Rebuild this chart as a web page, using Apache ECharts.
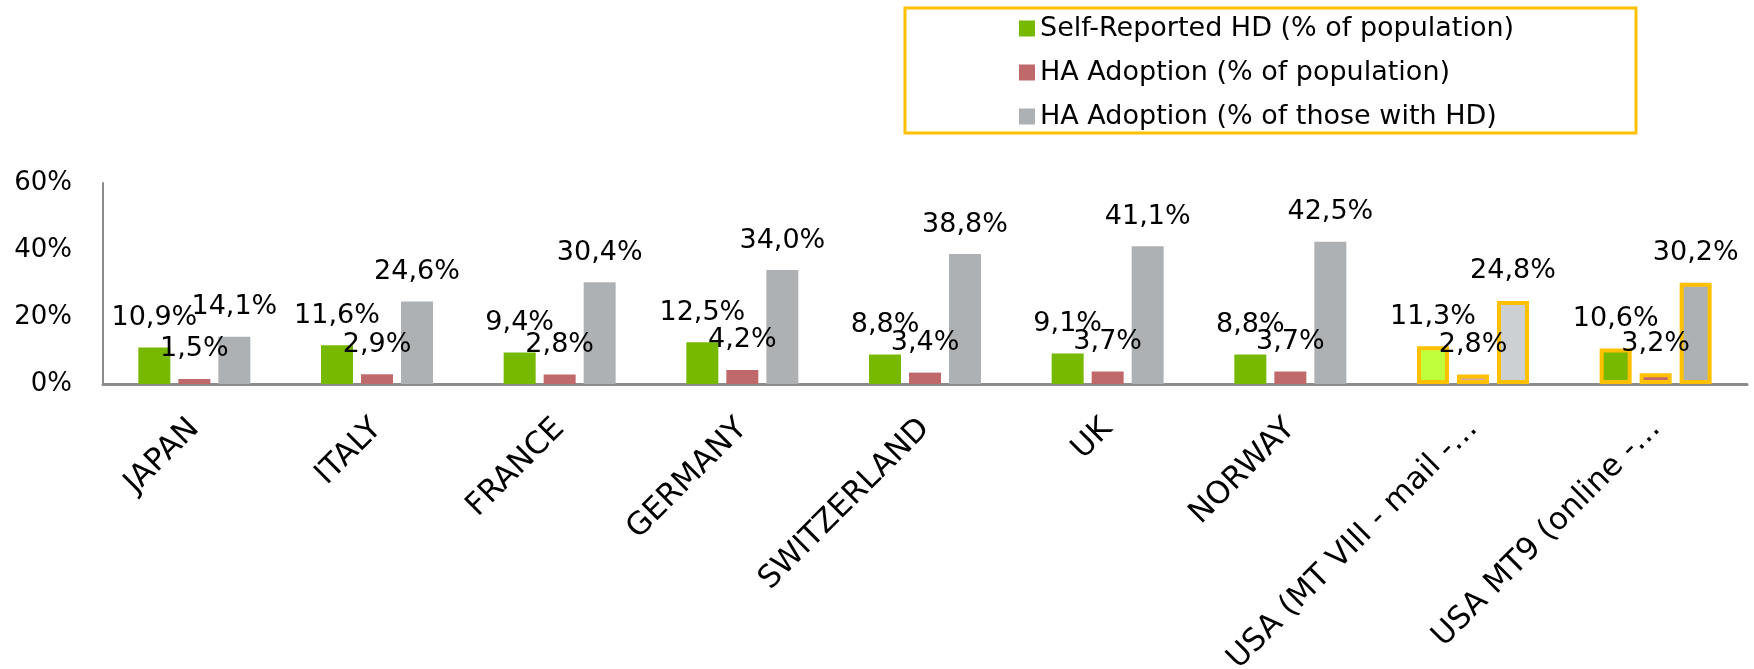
<!DOCTYPE html>
<html>
<head>
<meta charset="utf-8">
<script src="https://cdn.jsdelivr.net/npm/echarts@6/dist/echarts.min.js"></script>
<style>
  html, body { margin: 0; padding: 0; background: #fff; }
  #chart { width: 1754px; height: 669px; }
</style>
</head>
<body>
<div id="chart"></div>
<script>
// data
var categories = ['JAPAN', 'ITALY', 'FRANCE', 'GERMANY', 'SWITZERLAND', 'UK', 'NORWAY', 'USA (MT VIII - mail -…', 'USA MT9 (online -…']
var selfReported = [10.9, 11.6, 9.4, 12.5, 8.8, 9.1, 8.8, 11.3, 10.6]
var haPopulation = [1.5, 2.9, 2.8, 4.2, 3.4, 3.7, 3.7, 2.8, 3.2]
var haWithHD = [14.1, 24.6, 30.4, 34.0, 38.8, 41.1, 42.5, 24.8, 30.2]
var yTicks = [0, 20, 40, 60]
var seriesNames = ['Self-Reported HD (% of population)', 'HA Adoption (% of population)', 'HA Adoption (% of those with HD)']

var FONT = 'DejaVu Sans'
var colors = ['#77B800', '#C0696A', '#AEB1B3']
var lightColors = ['#C0FF3C', '#D8A7A7', '#CDD0D2']
var outlined = [7, 8] // USA survey bars with yellow outline
var pale = [7]

function buildData(values, s) {
  return values.map(function(v, i) {
    if (outlined.indexOf(i) < 0) return v
    return {
      value: v,
      itemStyle: {
        color: pale.indexOf(i) >= 0 ? lightColors[s] : colors[s],
        borderColor: '#FFC000',
        borderWidth: 4
      }
    }
  })
}

function fmt(p) {
  return p.value.toFixed(1).replace('.', ',') + '%'
}

var chart = echarts.init(document.getElementById('chart'))
var lists = [selfReported, haPopulation, haWithHD]

chart.setOption({
  backgroundColor: '#fff',
  animation: false,
  textStyle: { fontFamily: FONT },
  graphic: [{
    type: 'rect',
    shape: { x: 905, y: 8, width: 731, height: 125 },
    style: { fill: 'none', stroke: '#FFC000', lineWidth: 3 }
  }],
  legend: {
    orient: 'vertical',
    left: 1019,
    top: 13,
    padding: 0,
    itemWidth: 16,
    itemHeight: 16,
    itemGap: 13,
    icon: 'rect',
    textStyle: { fontFamily: FONT, fontSize: 27, color: '#000', lineHeight: 31 },
    data: seriesNames
  },
  grid: {
    left: 103,
    right: 7,
    top: 183,
    bottom: 285,
    outerBoundsMode: 'none'
  },
  xAxis: {
    type: 'category',
    data: categories,
    axisTick: { show: false },
    axisLine: { lineStyle: { color: '#8C8C8C', width: 3 } },
    axisLabel: {
      interval: 0,
      rotate: 45,
      margin: 40,
      fontFamily: FONT,
      fontSize: 31,
      color: '#000'
    }
  },
  yAxis: {
    type: 'value',
    min: yTicks[0],
    max: yTicks[yTicks.length - 1],
    interval: 20,
    splitLine: { show: false },
    axisTick: { show: false },
    axisLine: { show: true, lineStyle: { color: '#8C8C8C', width: 2 } },
    axisLabel: {
      margin: 31,
      fontFamily: FONT,
      fontSize: 26,
      color: '#000',
      formatter: function(v) { return v + '%' }
    }
  },
  series: lists.map(function(vals, s) {
    return {
      name: seriesNames[s],
      type: 'bar',
      data: buildData(vals, s),
      barWidth: 32,
      barGap: '25%',
      itemStyle: { color: colors[s] },
      label: {
        show: true,
        position: 'top',
        distance: 16,
        fontFamily: FONT,
        fontSize: 27,
        color: '#000',
        formatter: fmt
      }
    }
  })
})
</script>
</body>
</html>
